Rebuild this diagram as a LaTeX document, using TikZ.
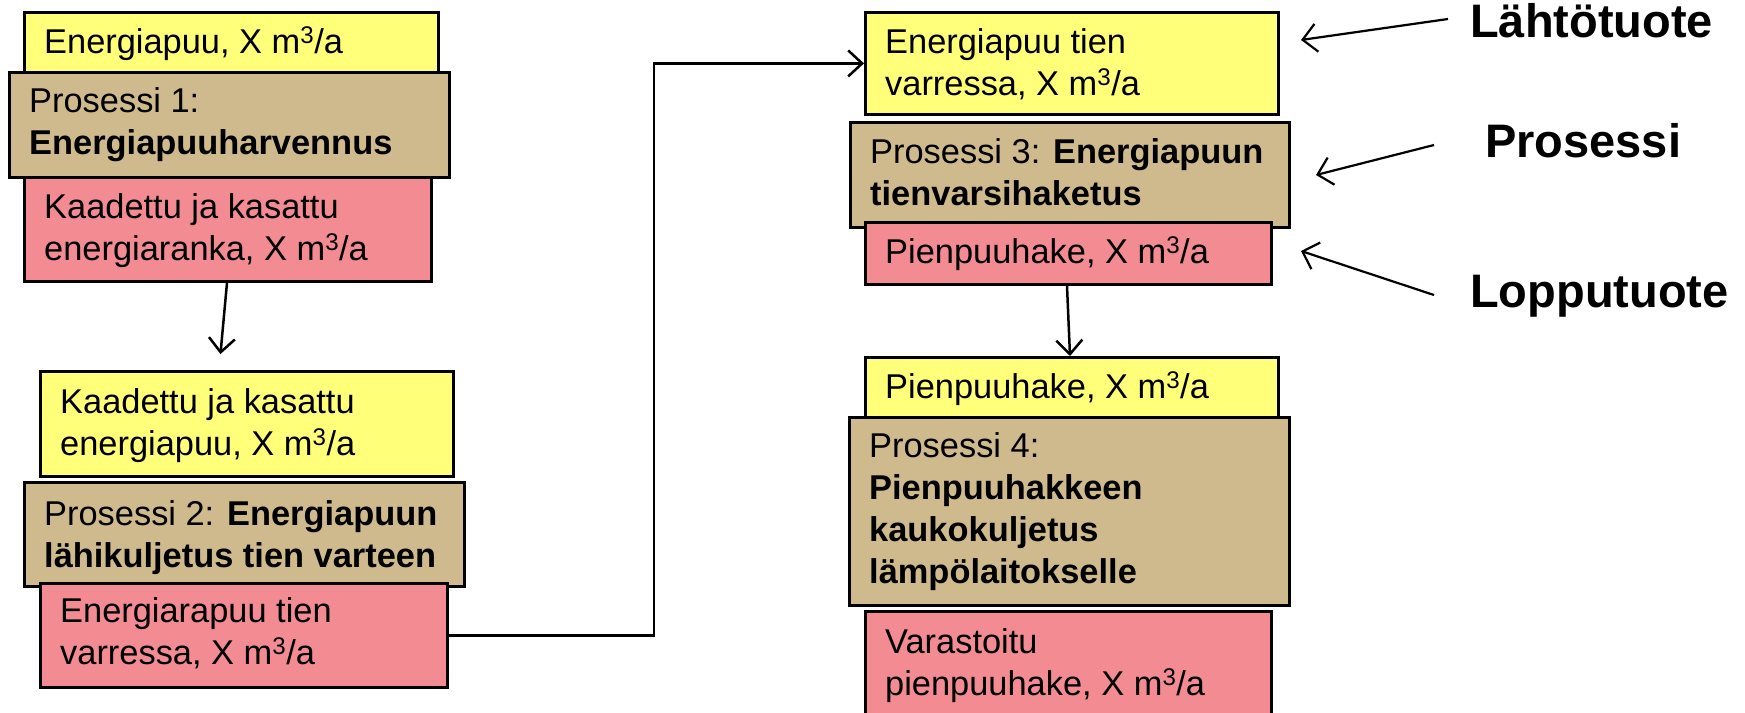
\documentclass[tikz,border=0pt]{standalone}
\usepackage{fontspec}
\setmainfont{Liberation Sans}
\usetikzlibrary{arrows.meta,calc}
\definecolor{ylw}{HTML}{FFFF7A}
\definecolor{brn}{HTML}{CFBA8E}
\definecolor{rd}{HTML}{F28C92}
\newcommand{\mqa}{X m\textsuperscript{3}/a}
\begin{document}
\begin{tikzpicture}[x=1pt,y=-1pt,
  box/.style={draw=black, line width=2.8pt, anchor=north west, inner sep=0pt},
  yb/.style={box, fill=ylw},
  bb/.style={box, fill=brn},
  rb/.style={box, fill=rd},
  txt/.style={anchor=base west, inner sep=0pt, align=left, font=\fontsize{34.4}{42}\selectfont},
  lbl/.style={anchor=base west, inner sep=0pt, font=\fontsize{47}{50}\selectfont\bfseries},
  conn/.style={line width=2.5pt, -{Straight Barb[length=14pt,width=26pt,line width=2.5pt]}},
  lconn/.style={line width=2.2pt, -{Straight Barb[length=14pt,width=28pt,line width=2.2pt]}}]
\useasboundingbox (0,0) rectangle (1745,712);

% ---- left column ----
% (text nodes are anchored at the baseline of their last line)
\node[yb, minimum width=414pt, minimum height=61pt] (y1) at (23,11) {};
\node[bb, minimum width=440pt, minimum height=105pt] (b1) at (8,71) {};
\node[rb, minimum width=407pt, minimum height=104pt] (r1) at (23,176) {};
\node[txt] (ty1) at ($(y1.north west)+(21,42)$) {Energiapuu, \mqa};
\node[txt] (tb1) at ($(b1.north west)+(21,83)$) {Prosessi 1:\\\textbf{Energiapuuharvennus}};
\node[txt] (tr1) at ($(r1.north west)+(21,84)$) {Kaadettu ja kasattu\\energiaranka, \mqa};

\node[yb, minimum width=413pt, minimum height=105pt] (y2) at (39,370) {};
\node[bb, minimum width=440pt, minimum height=104pt] (b2) at (23,481) {};
\node[rb, minimum width=407pt, minimum height=104pt] (r2) at (39,582) {};
\node[txt] (ty2) at ($(y2.north west)+(21,85)$) {Kaadettu ja kasattu\\energiapuu, \mqa};
\node[txt] (tb2) at ($(b2.north west)+(21,86)$) {Prosessi 2: \textbf{Energiapuun}\\\textbf{lähikuljetus tien varteen}};
\node[txt] (tr2) at ($(r2.north west)+(21,82)$) {Energiarapuu tien\\varressa, \mqa};

% ---- right column ----
\node[yb, minimum width=413pt, minimum height=102pt] (y3) at (864,11) {};
\node[bb, minimum width=439pt, minimum height=105pt] (b3) at (849,121) {};
\node[rb, minimum width=406pt, minimum height=62pt] (r3) at (864,221) {};
\node[txt] (ty3) at ($(y3.north west)+(21,84)$) {Energiapuu tien\\varressa, \mqa};
\node[txt] (tb3) at ($(b3.north west)+(21,84)$) {Prosessi 3: \textbf{Energiapuun}\\\textbf{tienvarsihaketus}};
\node[txt] (tr3) at ($(r3.north west)+(21,42)$) {Pienpuuhake, \mqa};

\node[yb, minimum width=413pt, minimum height=61pt] (y4) at (864,356) {};
\node[bb, minimum width=440pt, minimum height=188pt] (b4) at (848,416) {};
\node[rb, minimum width=406pt, minimum height=110pt] (r4) at (864,610) {};
\node[txt] (ty4) at ($(y4.north west)+(21,42)$) {Pienpuuhake, \mqa};
\node[txt] (tb4) at ($(b4.north west)+(21,167)$) {Prosessi 4:\\\textbf{Pienpuuhakkeen}\\\textbf{kaukokuljetus}\\\textbf{lämpölaitokselle}};
\node[txt] (tr4) at ($(r4.north west)+(21,85)$) {Varastoitu\\pienpuuhake, \mqa};

% ---- connectors ----
\draw[conn, shorten >=16pt] ($(r1.south west)+(204,0)$) -- ($(y2.north west)+(180,0)$);
\draw[conn] ($(r3.south west)+(203,0)$) -- ($(y4.north west)+(206,0)$);
\coordinate (mid) at (654,0);
\draw[conn] (r2.east) -| (mid |- y3.west) -- (y3.west);

% ---- labels ----
\node[lbl] (lt) at (1470,37) {Lähtötuote};
\node[lbl] (pr) at (1485,157) {Prosessi};
\node[lbl] (lp) at (1470,307) {Lopputuote};
\coordinate (lts) at (1448,19);
\coordinate (ltt) at (1301,40);
\coordinate (prs) at (1434,145);
\coordinate (prt) at (1316,175);
\coordinate (lps) at (1434,295);
\coordinate (lpt) at (1301,251);
\draw[lconn] (lts) -- (ltt);
\draw[lconn] (prs) -- (prt);
\draw[lconn] (lps) -- (lpt);
\end{tikzpicture}
\end{document}
